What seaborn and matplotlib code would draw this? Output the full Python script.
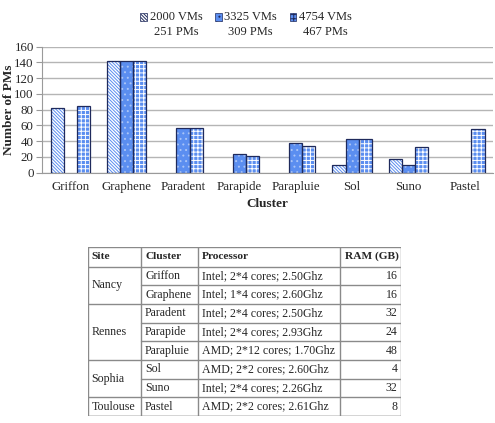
import numpy as np
import pandas as pd
import matplotlib
matplotlib.use("Agg")
import matplotlib.pyplot as plt
import seaborn as sns
from matplotlib.patches import Rectangle
from matplotlib.legend_handler import HandlerPatch

clusters = ["Griffon", "Graphene", "Paradent", "Parapide", "Parapluie", "Sol", "Suno", "Pastel"]
series = ["2000 VMs\n251 PMs", "3325 VMs\n309 PMs", "4754 VMs\n467 PMs"]
pms_2000 = [82, 142, np.nan, np.nan, np.nan, 10, 17, np.nan]
pms_3325 = [np.nan, 141, 56, 23, 37, 43, 9, np.nan]
pms_4754 = [84, 141, 57, 21, 34, 43, 33, 55]

sites = ["Nancy", "Rennes", "Sophia", "Toulouse"]
site_rows = [2, 3, 2, 1]
processors = ["Intel; 2*4 cores; 2.50Ghz", "Intel; 1*4 cores; 2.60Ghz",
              "Intel; 2*4 cores; 2.50Ghz", "Intel; 2*4 cores; 2.93Ghz",
              "AMD; 2*12 cores; 1.70Ghz", "AMD; 2*2 cores; 2.60Ghz",
              "Intel; 2*4 cores; 2.26Ghz", "AMD; 2*2 cores; 2.61Ghz"]
ram = [16, 16, 32, 24, 48, 4, 32, 8]
headers = ["Site", "Cluster", "Processor", "RAM (GB)"]

rows = []
for s, vals in zip(series, [pms_2000, pms_3325, pms_4754]):
    for c, v in zip(clusters, vals):
        rows.append({"Cluster": c, "Series": s, "PMs": v})
df = pd.DataFrame(rows).dropna()

sns.set_style("white")
plt.rcParams["font.family"] = ["Liberation Serif", "DejaVu Serif"]
plt.rcParams["hatch.linewidth"] = 0.7

blue = "#5b8ef0"
navy = "#1f2a5c"
fig = plt.figure(figsize=(4.95, 4.23), dpi=100)
ax = fig.add_axes([0.085, 0.592, 0.911, 0.298])

sns.barplot(data=df, x="Cluster", y="PMs", hue="Series", order=clusters,
            hue_order=series, width=0.7, ax=ax, errorbar=None, legend=False)

styles = [("white", blue, "\\" * 10), (blue, "#a9c4f7", "..."), (blue, "white", "++++")]
handles = []
for cont, (face, hcol, hatch) in zip(ax.containers, styles):
    for p in cont.patches:
        p.set_facecolor(face)
        p.set_edgecolor(hcol)
        p.set_hatch(hatch)
        p.set_linewidth(0)
        ax.add_patch(Rectangle(p.get_xy(), p.get_width(), p.get_height(),
                               fill=False, edgecolor=navy, linewidth=0.9, zorder=3))
    handles.append(Rectangle((0, 0), 1, 1, facecolor=face, edgecolor=navy,
                             hatch=hatch, linewidth=0.5))

ax.set_ylim(0, 160)
ax.set_yticks(range(0, 161, 20))
ax.set_xlim(-0.5, len(clusters) - 0.5)
ax.yaxis.grid(True, color="#b5b5b5", linewidth=1)
ax.set_axisbelow(True)
for sp in ["top", "right"]:
    ax.spines[sp].set_visible(False)
for sp in ["left", "bottom"]:
    ax.spines[sp].set_color("#9a9a9a")
ax.set_xticks(np.arange(-0.5, len(clusters) + 0.5), minor=True)
ax.tick_params(axis="x", which="major", length=0, labelsize=9.3, pad=6)
ax.tick_params(axis="x", which="minor", length=4, color="#9a9a9a", direction="out")
ax.tick_params(axis="y", length=4, color="#9a9a9a", labelsize=9.3, left=True,
               direction="out", pad=2)
ax.set_xlabel("Cluster", fontsize=9.5, fontweight="bold", labelpad=4)
ax.set_ylabel("Number of PMs", fontsize=9.5, fontweight="bold")
ax.yaxis.set_label_coords(-0.06, 0.5)


def top_box(legend, orig_handle, xdescent, ydescent, width, height, fontsize):
    return Rectangle((-xdescent, -ydescent + fontsize * 0.62), width, height)


leg = fig.legend(handles, series, loc="upper center", bbox_to_anchor=(0.497, 1.0),
                 ncol=3, frameon=False, fontsize=9, handlelength=0.55,
                 handleheight=0.55, handletextpad=0.2, columnspacing=1.0,
                 handler_map={Rectangle: HandlerPatch(patch_func=top_box)})
for t in leg.get_texts():
    t.set_multialignment("center")
    t.set_linespacing(1.35)

# table
tx = fig.add_axes([0.177, 0.0165, 0.634, 0.4])
W, H = 314, 169
tx.set_xlim(0, W)
tx.set_ylim(H, 0)
tx.axis("off")
col_x = [0, 53.5, 110.5, 252.5, W]
head_h = 19.7
row_h = (H - head_h) / len(clusters)
lc = "#8a8a8a"
fs = 8.6
hfs = 8.2

tx.plot([0, W], [0, 0], color=lc, lw=1)
tx.plot([0, W], [H, H], color=lc, lw=1)
tx.plot([0, W], [head_h, head_h], color=lc, lw=1)
for x in col_x:
    tx.plot([x, x], [0, H], color=lc, lw=1)
for i, h in enumerate(headers):
    if i == 3:
        tx.text(col_x[4] - 3, head_h / 2, h, ha="right", va="center", fontsize=hfs, fontweight="bold")
    else:
        tx.text(col_x[i] + 4, head_h / 2, h, ha="left", va="center", fontsize=hfs, fontweight="bold")

r0 = 0
for site, n in zip(sites, site_rows):
    y0 = head_h + r0 * row_h
    y1 = y0 + n * row_h
    tx.text(col_x[0] + 4, (y0 + y1) / 2, site, ha="left", va="center", fontsize=fs)
    tx.plot([0, W], [y1, y1], color=lc, lw=1)
    for k in range(1, n):
        yy = y0 + k * row_h
        tx.plot([col_x[1], W], [yy, yy], color=lc, lw=1)
    r0 += n

for i, (c, p, r) in enumerate(zip(clusters, processors, ram)):
    yc = head_h + (i + 0.5) * row_h
    tx.text(col_x[1] + 4, yc, c, ha="left", va="center", fontsize=fs)
    tx.text(col_x[2] + 4, yc, p, ha="left", va="center", fontsize=fs)
    tx.text(col_x[4] - 4, yc, str(r), ha="right", va="center", fontsize=fs)

fig.savefig("out.png", dpi=100)
